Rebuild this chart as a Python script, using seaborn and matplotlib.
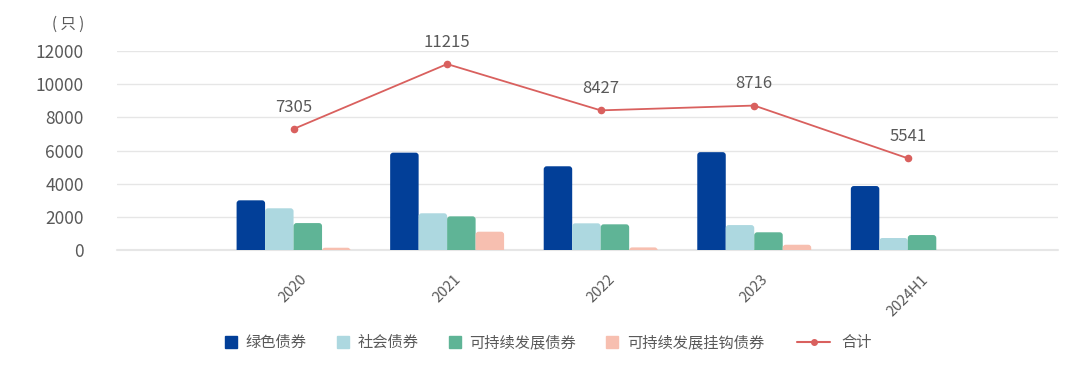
import matplotlib
matplotlib.use("Agg")
import matplotlib.pyplot as plt
import seaborn as sns
import pandas as pd
from matplotlib.lines import Line2D
from matplotlib.patches import FancyBboxPatch

# 数据（单位：只）
years = ["2020", "2021", "2022", "2023", "2024H1"]
green = [3010, 5880, 5060, 5910, 3870]
social = [2530, 2230, 1625, 1520, 740]
sustain = [1640, 2045, 1565, 1085, 920]
slb = [155, 1120, 175, 335, 0]
total = [7305, 11215, 8427, 8716, 5541]

series = ["绿色债券", "社会债券", "可持续发展债券", "可持续发展挂钩债券"]
colors = ["#023F98", "#ADD8E0", "#5FB496", "#F7BFB0"]
line_color = "#D9605E"
text_color = "#595959"
grid_color = "#E6E6E6"

sns.set_theme(style="white")
plt.rcParams["font.family"] = ["Noto Sans CJK SC", "DejaVu Sans"]

df = pd.DataFrame({
    "year": years * 4,
    "type": [s for s in series for _ in years],
    "count": green + social + sustain + slb,
})

fig = plt.figure(figsize=(10.8, 3.7), dpi=100)
ax = fig.add_axes([0.1083, 0.3235, 0.8716, 0.5386])

sns.barplot(data=df, x="year", y="count", hue="type", hue_order=series,
            palette=colors, width=0.742, saturation=1, ax=ax, legend=False)

sns.pointplot(x=years, y=total, color=line_color, markers="o",
              markersize=4.5, linewidth=1.3, ax=ax)

for i, v in enumerate(total):
    ax.annotate(str(v), (i, v), xytext=(0, 9.5), textcoords="offset points",
                ha="center", va="bottom", fontsize=12, color=text_color,
                annotation_clip=False)

ax.set_xlim(-1.15, 4.98)
ax.set_ylim(0, 12000)

# rounded top corners on the bars
px_x = 6.13 / (0.8716 * 1080)
px_y = 12000 / (0.5386 * 370)
r_x = 3 * px_x
aspect = px_y / px_x
for p in list(ax.patches):
    h = p.get_height()
    if h <= 0:
        p.remove()
        continue
    x0 = p.get_x()
    w = p.get_width()
    fc = p.get_facecolor()
    p.remove()
    ax.add_patch(FancyBboxPatch((x0, -3 * px_y), w, h + 3 * px_y,
                                boxstyle=f"round,pad=0,rounding_size={r_x}",
                                mutation_aspect=aspect, fc=fc, ec="none",
                                zorder=2))

ax.set_yticks(range(0, 12001, 2000))
ax.yaxis.grid(True, color=grid_color, linewidth=1)
ax.axhline(0, color=grid_color, linewidth=1.5, zorder=1, clip_on=False)
ax.set_axisbelow(True)
for sp in ax.spines.values():
    sp.set_visible(False)
ax.set_xlabel("")
ax.set_ylabel("")
ax.tick_params(axis="y", length=0, pad=23.8, labelsize=12.5, labelcolor=text_color)
ax.tick_params(axis="x", length=0, pad=16, labelsize=10.5, labelcolor=text_color)
plt.setp(ax.get_xticklabels(), rotation=45, ha="center")

fig.text(84 / 1080, 1 - 24 / 370, "( 只 )", fontsize=11, color=text_color,
         ha="right", va="center")

sq = [Line2D([], [], marker="s", linestyle="none", markersize=8,
             color=c) for c in colors]
fig.legend(sq, series, loc="center left", ncol=4,
           bbox_to_anchor=(225 / 1080, 1 - 342.7 / 370), frameon=False,
           fontsize=11, labelcolor=text_color, handlelength=0.72,
           columnspacing=2.0, handletextpad=0.62, borderpad=0,
           borderaxespad=0)
ln = [Line2D([], [], color=line_color, marker="o", markersize=4,
             linewidth=1.5)]
fig.legend(ln, ["合计"], loc="center left",
           bbox_to_anchor=(797 / 1080, 1 - 342.7 / 370), frameon=False,
           fontsize=11, labelcolor=text_color, handlelength=2.16,
           handletextpad=0.72, borderpad=0, borderaxespad=0)

fig.savefig("out.png", dpi=100)
